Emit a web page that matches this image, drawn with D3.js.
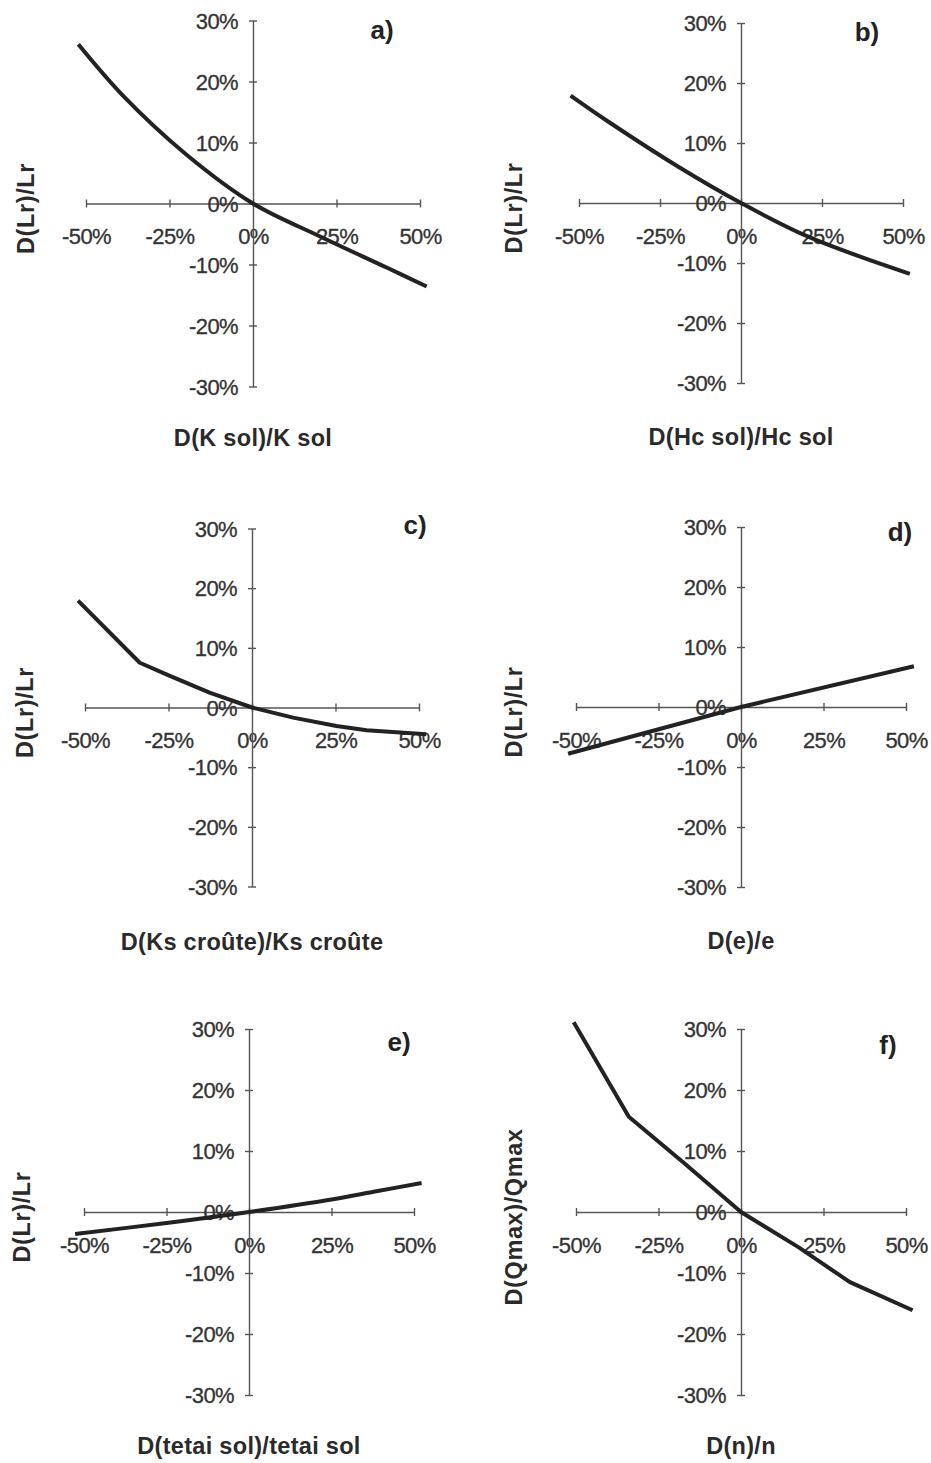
<!DOCTYPE html>
<html>
<head>
<meta charset="utf-8">
<script src="https://cdn.jsdelivr.net/npm/d3@7"></script>
<style>
  html, body { margin: 0; padding: 0; background: #fff; }
  svg { display: block; }
</style>
</head>
<body>
<script>
// ---- data ----
const xTicks = [-50, -25, 0, 25, 50];
const yTicks = [-30, -20, -10, 0, 10, 20, 30];
const panelLetters = ["a)", "b)", "c)", "d)", "e)", "f)"];
const xTitles = ["D(K sol)/K sol", "D(Hc sol)/Hc sol", "D(Ks croûte)/Ks croûte", "D(e)/e", "D(tetai sol)/tetai sol", "D(n)/n"];
const yTitles = ["D(Lr)/Lr", "D(Lr)/Lr", "D(Lr)/Lr", "D(Lr)/Lr", "D(Lr)/Lr", "D(Qmax)/Qmax"];

const aX = [-52.3, -38.8, -19.9, 0, 20.1, 40, 52];
const aY = [26.1, 17.6, 8.0, 0, -5.4, -10.5, -13.6];
const bX = [-52.6, -40.8, -20.1, 0, 21.1, 52.1];
const bY = [17.9, 13.5, 6.3, 0, -5.7, -11.8];
const cX = [-52.1, -33.6, -24.6, -12.7, 0, 12.3, 25.3, 34.3, 52.2];
const cY = [17.9, 7.5, 5.3, 2.5, 0, -1.7, -3.1, -3.8, -4.5];
const dX = [-52.4, 0, 52.4];
const dY = [-7.8, 0, 6.8];
const eX = [-52.7, -25, 0, 25.5, 38.6, 52.3];
const eY = [-3.6, -1.8, 0, 2.1, 3.4, 4.75];
const fX = [-50.7, -34, -17, 0, 17.5, 33, 52];
const fY = [31.1, 15.6, 7.9, 0, -5.8, -11.5, -16.1];

const seriesX = [aX, bX, cX, dX, eX, fX];
const seriesY = [aY, bY, cY, dY, eY, fY];

// ---- layout (positions / styles) ----
const layout = [
  { ox: 253, oy: 203.5, hx: 167, hy: 183, lx: 129, ly: -174, smooth: true },
  { ox: 741, oy: 203, hx: 162, hy: 180, lx: 126, ly: -171, smooth: true },
  { ox: 252, oy: 707.5, hx: 167, hy: 179, lx: 163, ly: -183, smooth: false },
  { ox: 741, oy: 707, hx: 165, hy: 180, lx: 159, ly: -175, smooth: false },
  { ox: 249, oy: 1212, hx: 165, hy: 183, lx: 150, ly: -170, smooth: true },
  { ox: 741, oy: 1212, hx: 165, hy: 183, lx: 147, ly: -167, smooth: false }
];

const W = 931, H = 1463;
const svg = d3.select("body").append("svg")
  .attr("width", W).attr("height", H)
  .style("font-family", "'Liberation Sans', Arial, Helvetica, sans-serif");

const axisColor = "#555";
const textColor = "#333";
const fmt = d => d + "%";

layout.forEach((L, i) => {
  const x = d3.scaleLinear().domain([-50, 50]).range([L.ox - L.hx, L.ox + L.hx]);
  const y = d3.scaleLinear().domain([-30, 30]).range([L.oy + L.hy, L.oy - L.hy]);
  const g = svg.append("g");

  // x axis through y=0, cross ticks
  const xa = g.append("g").attr("transform", `translate(0,${y(0)})`)
    .call(d3.axisBottom(x).tickValues(xTicks).tickSize(0).tickFormat(""));
  xa.select(".domain").attr("stroke", axisColor).attr("stroke-width", 1.4);
  xa.selectAll(".tick").append("line")
    .attr("y1", -4).attr("y2", 4).attr("stroke", axisColor).attr("stroke-width", 1.4);
  xa.selectAll(".tick").append("text")
    .attr("y", 33).attr("dy", "0.35em")
    .attr("text-anchor", "middle")
    .attr("fill", textColor).attr("font-size", 22).attr("letter-spacing", -0.6)
    .attr("stroke", textColor).attr("stroke-width", 0.3)
    .text(fmt);

  // y axis through x=0
  const ya = g.append("g").attr("transform", `translate(${x(0)},0)`)
    .call(d3.axisLeft(y).tickValues(yTicks).tickSize(0).tickFormat(""));
  ya.select(".domain").attr("stroke", axisColor).attr("stroke-width", 1.4);
  ya.selectAll(".tick").append("line")
    .attr("x1", -4).attr("x2", 4).attr("stroke", axisColor).attr("stroke-width", 1.4);
  ya.selectAll(".tick").append("text")
    .attr("x", -15).attr("dy", "0.35em")
    .attr("text-anchor", "end")
    .attr("fill", textColor).attr("font-size", 22).attr("letter-spacing", -0.6)
    .attr("stroke", textColor).attr("stroke-width", 0.3)
    .text(fmt);

  // curve
  const pts = seriesX[i].map((v, k) => [v, seriesY[i][k]]);
  const line = d3.line()
    .x(d => x(d[0])).y(d => y(d[1]))
    .curve(L.smooth ? d3.curveCatmullRom.alpha(0.5) : d3.curveLinear);
  g.append("path").datum(pts)
    .attr("d", line)
    .attr("fill", "none").attr("stroke", "#222")
    .attr("stroke-width", 4).attr("stroke-linejoin", "round");

  // panel letter
  g.append("text")
    .attr("x", L.ox + L.lx).attr("y", L.oy + L.ly).attr("dy", "0.35em")
    .attr("text-anchor", "middle")
    .attr("font-size", 26).attr("font-weight", "bold").attr("fill", "#222")
    .text(panelLetters[i]);

  // x title
  g.append("text")
    .attr("x", L.ox).attr("y", L.oy + 234).attr("dy", "0.35em")
    .attr("text-anchor", "middle")
    .attr("font-size", 23.5).attr("font-weight", "bold").attr("fill", "#2a2a2a")
    .attr("letter-spacing", 0.3)
    .text(xTitles[i]);

  // y title
  g.append("text")
    .attr("transform", `translate(${L.ox - 227},${L.oy + 5}) rotate(-90)`)
    .attr("dy", "0.35em")
    .attr("text-anchor", "middle")
    .attr("font-size", 23.5).attr("font-weight", "bold").attr("fill", "#2a2a2a")
    .attr("letter-spacing", 0.6)
    .text(yTitles[i]);
});
</script>
</body>
</html>
